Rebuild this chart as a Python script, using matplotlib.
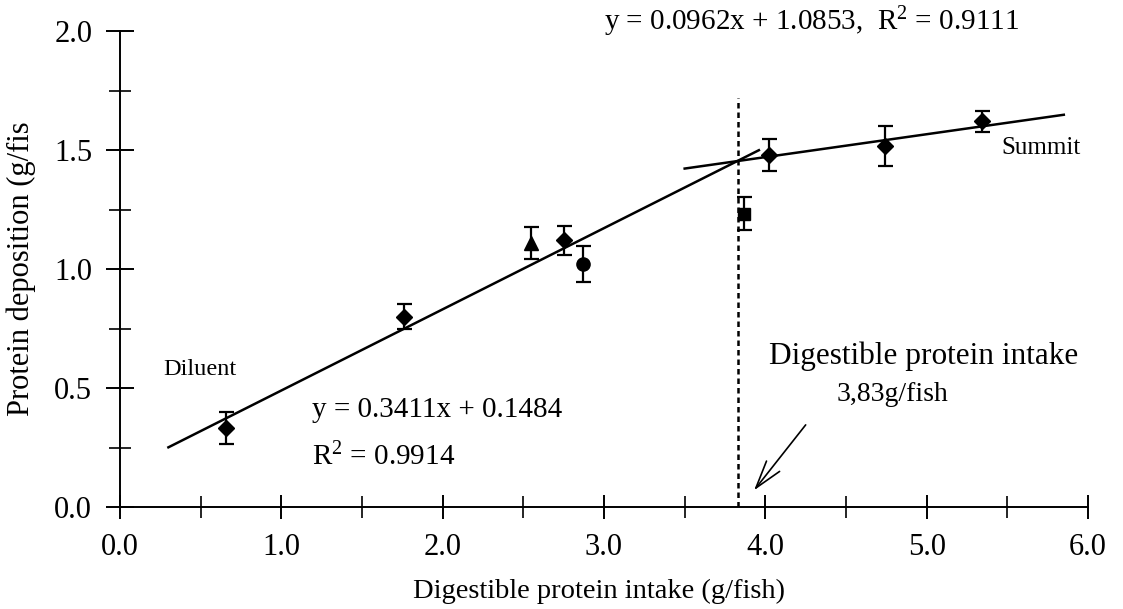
import matplotlib
matplotlib.use("Agg")
import matplotlib.pyplot as plt
from matplotlib.ticker import MultipleLocator, FormatStrFormatter

plt.rcParams['font.family'] = ['Liberation Serif', 'DejaVu Serif']
plt.rcParams['mathtext.fontset'] = 'custom'
plt.rcParams['mathtext.rm'] = 'Liberation Serif'
plt.rcParams['mathtext.it'] = 'Liberation Serif:italic'

# Treatment means (digestible protein intake vs. protein deposition)
intake = [0.66, 1.76, 2.55, 2.75, 2.87, 3.87, 4.02, 4.74, 5.34]
deposition = [0.333, 0.80, 1.11, 1.12, 1.02, 1.233, 1.48, 1.517, 1.62]
sd = [0.068, 0.052, 0.066, 0.06, 0.075, 0.07, 0.068, 0.085, 0.044]
symbols = ['D', 'D', '^', 'D', 'o', 's', 'D', 'D', 'D']

# Broken-line regression segments
slope_lo, icpt_lo = 0.3411, 0.1484
slope_hi, icpt_hi = 0.0962, 1.0853
span_lo = [0.3, 3.96]
span_hi = [3.5, 5.85]
breakpoint_x = 3.83

fig = plt.figure(figsize=(11.23, 6.09), dpi=100)
ax = fig.add_axes([120 / 1123, 102 / 609, 968 / 1123, 476 / 609])
ax.set_xlim(0, 6)
ax.set_ylim(0, 2)

for s in ('top', 'right'):
    ax.spines[s].set_visible(False)
for s in ('left', 'bottom'):
    ax.spines[s].set_linewidth(1.4)

ax.xaxis.set_major_locator(MultipleLocator(1.0))
ax.xaxis.set_minor_locator(MultipleLocator(0.5))
ax.yaxis.set_major_locator(MultipleLocator(0.5))
ax.yaxis.set_minor_locator(MultipleLocator(0.25))
ax.xaxis.set_major_formatter(FormatStrFormatter('%.1f'))
ax.yaxis.set_major_formatter(FormatStrFormatter('%.1f'))
ax.tick_params(axis='x', which='major', direction='inout', length=17, width=1.4,
               labelsize=22, pad=10)
ax.tick_params(axis='x', which='minor', direction='inout', length=16, width=1.2)
ax.tick_params(axis='y', which='major', direction='inout', length=20, width=1.4,
               labelsize=22, pad=10)
ax.tick_params(axis='y', which='minor', direction='inout', length=16, width=1.2)

ax.set_xlabel('Digestible protein intake (g/fish)', fontsize=20.5)
ax.xaxis.set_label_coords(0.495, -0.15)
ax.set_ylabel('Protein deposition (g/fis', fontsize=22)
ax.yaxis.set_label_coords(-0.087, 0.5)

# regression lines
xl = span_lo
ax.plot(xl, [slope_lo * v + icpt_lo for v in xl], color='k', lw=1.8)
xh = span_hi
ax.plot(xh, [slope_hi * v + icpt_hi for v in xh], color='k', lw=1.8)

# breakpoint marker line
ax.plot([breakpoint_x, breakpoint_x], [0, 1.72], color='k', lw=1.8,
        ls=(0, (2.2, 1.6)))

# error bars and symbols
ax.errorbar(intake, deposition, yerr=sd, fmt='none', ecolor='k',
            elinewidth=1.6, capsize=5.4, capthick=1.6, zorder=3)
sizes = {'D': 8.5, '^': 9.5, 'o': 9.5, 's': 9.0}
for xv, yv, m in zip(intake, deposition, symbols):
    ax.plot(xv, yv, marker=m, color='k', ms=sizes[m], ls='none', zorder=4)

# annotations
ax.text(3.0, 2.04, r'y = 0.0962x + 1.0853,  R$^{2}$ = 0.9111', fontsize=21,
        ha='left', va='center')
ax.text(0.266, 0.576, 'Diluent', fontsize=17.5, ha='left', va='center')
ax.text(1.19, 0.408, 'y = 0.3411x + 0.1484', fontsize=21, ha='left', va='center')
ax.text(1.19, 0.21, r'R$^{2}$ = 0.9914', fontsize=21, ha='left', va='center')
ax.text(5.466, 1.51, 'Summit', fontsize=18, ha='left', va='center')
ax.text(4.02, 0.6, 'Digestible protein intake', fontsize=22.5, ha='left',
        va='baseline')
ax.text(4.44, 0.446, '3,83g/fish', fontsize=20, ha='left', va='baseline')

ax.annotate('', xy=(3.93, 0.07), xytext=(4.25, 0.345),
            arrowprops=dict(arrowstyle='->, head_length=1.0, head_width=0.3',
                            lw=1.2, color='k', mutation_scale=20,
                            shrinkA=0, shrinkB=0))

fig.savefig('out.png', dpi=100, facecolor='white')
